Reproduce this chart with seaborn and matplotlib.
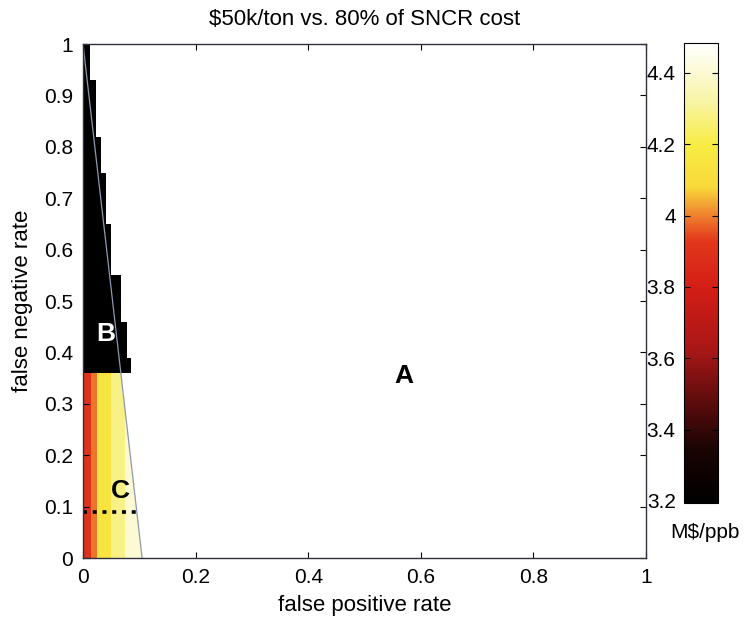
import numpy as np
import matplotlib
matplotlib.use("Agg")
import matplotlib.pyplot as plt
from matplotlib.colors import LinearSegmentedColormap
import seaborn as sns

# ---------------- data ----------------
title = "$50k/ton vs. 80% of SNCR cost"
xlabel = "false positive rate"
ylabel = "false negative rate"
cbar_label = "M$/ppb"

x_ticks = [0, 0.2, 0.4, 0.6, 0.8, 1]
x_ticklabels = ["0", "0.2", "0.4", "0.6", "0.8", "1"]
y_ticks = [0, 0.1, 0.2, 0.3, 0.4, 0.5, 0.6, 0.7, 0.8, 0.9, 1]
y_ticklabels = ["0", "0.1", "0.2", "0.3", "0.4", "0.5", "0.6", "0.7", "0.8", "0.9", "1"]
cbar_ticks = [3.2, 3.4, 3.6, 3.8, 4.0, 4.2, 4.4]
cbar_ticklabels = ["3.2", "3.4", "3.6", "3.8", "4", "4.2", "4.4"]
vmin, vmax = 3.194, 4.484

# region B: black staircase (right edge of each step, top of each step)
b_step_fp = [0.013, 0.022, 0.033, 0.039, 0.050, 0.067, 0.077, 0.085]
b_step_fn = [1.0, 0.93, 0.82, 0.75, 0.65, 0.55, 0.46, 0.39]
b_value = 3.19
fn_split = 0.36  # boundary between B (above) and C (below)

# frontier line (thin) from top-left to bottom
frontier_fp = [0.0, 0.105]
frontier_fn = [1.0, 0.0]

# region C: vertical bands of cost
c_band_fp = [0.014, 0.024, 0.050, 0.074, 0.110]
c_band_val = [3.90, 3.99, 4.15, 4.28, 4.40]

# dotted line
dot_fp = [0.0, 0.095]
dot_fn = [0.09, 0.09]

# region labels
labels_txt = ["A", "B", "C"]
labels_fp = [0.57, 0.040, 0.066]
labels_fn = [0.355, 0.435, 0.13]
labels_col = ["black", "white", "black"]

# colormap anchors (scanned "hot")
cmap_vals = [3.194, 3.35, 3.47, 3.62, 3.80, 3.93, 4.01, 4.08, 4.20, 4.32, 4.484]
cmap_cols = ["#000000", "#1c0404", "#5a0c0c", "#a81616", "#d41e16", "#e2381c",
             "#f08a30", "#f8d83a", "#f8ec44", "#f8f4a4", "#ffffff"]

# ---------------- build grid from the arrays ----------------
nx, ny = 400, 200
xc = (np.arange(nx) + 0.5) / nx
yc = (np.arange(ny) + 0.5) / ny
X, Y = np.meshgrid(xc, yc)
Z = np.full((ny, nx), np.nan)

front_x = np.interp(Y, frontier_fn[::-1], frontier_fp[::-1])
band_idx = np.searchsorted(c_band_fp, X)
band_idx_c = np.clip(band_idx, 0, len(c_band_val) - 1)
mask_c = (Y < fn_split) & (X < front_x) & (band_idx < len(c_band_val))
Z[mask_c] = np.array(c_band_val)[band_idx_c[mask_c]]

for fp_edge, fn_top in zip(b_step_fp, b_step_fn):
    m = (X < fp_edge) & (Y >= fn_split) & (Y <= fn_top)
    Z[m] = b_value

norm_pos = [(v - vmin) / (vmax - vmin) for v in cmap_vals]
cmap = LinearSegmentedColormap.from_list("scan_hot", list(zip(norm_pos, cmap_cols)))

# ---------------- plot ----------------
plt.rcParams["font.family"] = ["Liberation Sans", "DejaVu Sans"]
FS_TICK = 15
FS_LAB = 16

fig = plt.figure(figsize=(7.47, 6.19), dpi=100)
ax = fig.add_axes([0.1111, 0.0985, 0.7537, 0.8304])
cax = fig.add_axes([0.9157, 0.1874, 0.0455, 0.7431])

sns.heatmap(Z[::-1], ax=ax, cmap=cmap, vmin=vmin, vmax=vmax, cbar_ax=cax,
            xticklabels=False, yticklabels=False)

def px(v):
    return np.asarray(v, dtype=float) * nx

def py(v):
    return (1 - np.asarray(v, dtype=float)) * ny

ax.set_xlim(0, nx)
ax.set_ylim(ny, 0)

ax.plot(px(frontier_fp), py(frontier_fn), color="#8c98b0", lw=0.9)
ax.plot(px(dot_fp), py(dot_fn), color="black", lw=2.6, ls=(0, (1.1, 1.6)))

for t, xv, yv, c in zip(labels_txt, labels_fp, labels_fn, labels_col):
    ax.text(px(xv), py(yv), t, color=c, fontsize=19, fontweight="bold",
            ha="center", va="center")

ax.set_xticks(px(x_ticks))
ax.set_xticklabels(x_ticklabels, fontsize=FS_TICK)
ax.set_yticks(py(y_ticks))
ax.set_yticklabels(y_ticklabels, fontsize=FS_TICK, rotation=0)
ax.tick_params(direction="in", length=4, top=True, right=True, width=0.8, pad=7)
for sp in ax.spines.values():
    sp.set_visible(True)
    sp.set_color("#303040")
    sp.set_linewidth(1.0)
ax.set_xlabel(xlabel, fontsize=FS_LAB, labelpad=6)
ax.set_ylabel(ylabel, fontsize=FS_LAB, labelpad=8)
ax.set_title(title, fontsize=FS_LAB, pad=14)

cbar = ax.collections[0].colorbar
cbar.set_ticks(cbar_ticks)
cbar.set_ticklabels(cbar_ticklabels)
cbar.outline.set_linewidth(0.8)
cbar.outline.set_edgecolor("black")
cax.yaxis.set_ticks_position("left")
cax.tick_params(direction="in", length=4, labelsize=FS_TICK, pad=6, left=True, right=True)
fig.text(0.944, 0.139, cbar_label, fontsize=FS_TICK, ha="center", va="center")

fig.savefig("out.png", dpi=100, facecolor="white")
